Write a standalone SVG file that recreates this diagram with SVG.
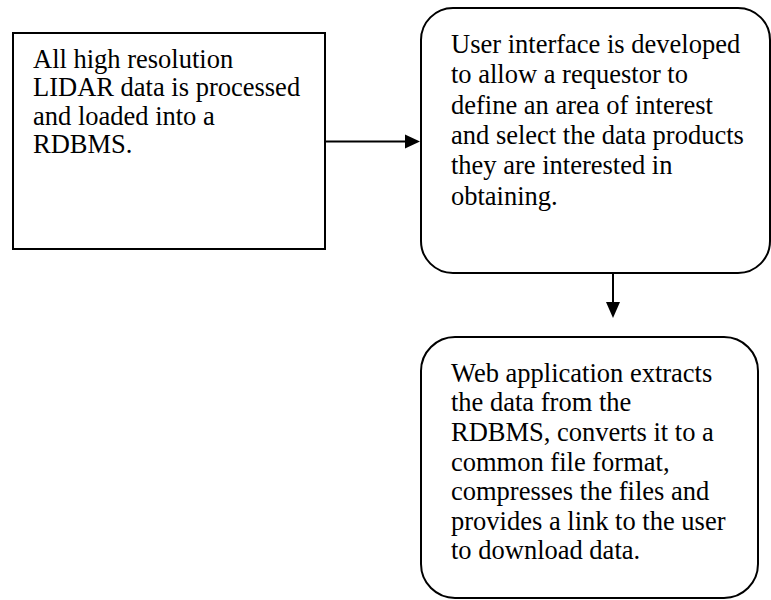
<svg xmlns="http://www.w3.org/2000/svg" width="771" height="600" viewBox="0 0 771 600">
<style>
.box{fill:#fff;stroke:#000;stroke-width:2}
.t{font-family:"Liberation Serif","Times New Roman",serif;font-size:26.5px;fill:#000}
.c{stroke:#000;stroke-width:2;fill:none}
.ah{fill:#000}
</style>
<rect width="771" height="600" fill="#fff"/>
<g id="n1">
<rect class="box" x="13" y="33" width="312" height="216"/>
<text class="t"><tspan x="33" y="67.5">All high resolution</tspan><tspan x="33" y="96">LIDAR data is processed</tspan><tspan x="33" y="124.5">and loaded into a</tspan><tspan x="33" y="153">RDBMS.</tspan></text>
</g>
<g id="n2">
<rect class="box" x="421" y="8" width="349" height="265" rx="32" ry="32"/>
<text class="t"><tspan x="451" y="53">User interface is developed</tspan><tspan x="451" y="83.3">to allow a requestor to</tspan><tspan x="451" y="113.6">define an area of interest</tspan><tspan x="451" y="144">and select the data products</tspan><tspan x="451" y="174.2">they are interested in</tspan><tspan x="451" y="204.5">obtaining.</tspan></text>
</g>
<g id="n3">
<rect class="box" x="421" y="337" width="337" height="261" rx="34" ry="34"/>
<text class="t"><tspan x="451" y="381.7">Web application extracts</tspan><tspan x="451" y="411.3">the data from the</tspan><tspan x="451" y="441">RDBMS, converts it to a</tspan><tspan x="451" y="470.6">common file format,</tspan><tspan x="451" y="500.2">compresses the files and</tspan><tspan x="451" y="529.8">provides a link to the user</tspan><tspan x="451" y="559.4">to download data.</tspan></text>
</g>
<g id="connectors">
<line class="c" x1="325" y1="141.5" x2="406" y2="141.5"/>
<path class="ah" d="M405,134.5 L420,141.5 L405,148.5 Z"/>
<line class="c" x1="613" y1="273" x2="613" y2="303"/>
<path class="ah" d="M606,302 L613,318 L620,302 Z"/>
</g>
</svg>
